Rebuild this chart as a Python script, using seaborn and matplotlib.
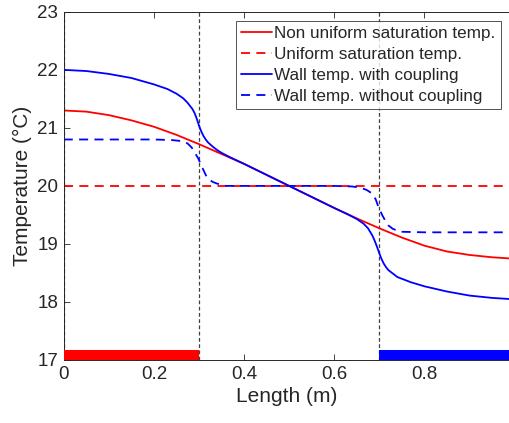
import pandas as pd
import matplotlib
matplotlib.use("Agg")
import matplotlib.pyplot as plt
import seaborn as sns

# values
x_nonuni = [0, 0.05, 0.1, 0.15, 0.2, 0.25, 0.3, 0.35, 0.4, 0.45, 0.5, 0.55,
            0.6, 0.65, 0.7, 0.75, 0.8, 0.85, 0.9, 0.95, 0.99]
t_nonuni = [21.30, 21.28, 21.22, 21.13, 21.02, 20.88, 20.72, 20.55, 20.38, 20.19,
            20.00, 19.81, 19.62, 19.44, 19.27, 19.11, 18.97, 18.87, 18.81, 18.77, 18.75]

x_uni = [0, 0.99]
t_uni = [20.0, 20.0]

x_wall = [0, 0.05, 0.1, 0.15, 0.2, 0.23, 0.25, 0.265, 0.275, 0.285, 0.29, 0.295, 0.3,
          0.305, 0.31, 0.315, 0.32, 0.33, 0.34, 0.35, 0.37, 0.4, 0.45, 0.5, 0.55, 0.6,
          0.63, 0.65, 0.665, 0.675, 0.685, 0.69, 0.695, 0.7, 0.705, 0.71, 0.715, 0.72,
          0.74, 0.77, 0.8, 0.85, 0.9, 0.95, 0.99]
t_wall = [22.00, 21.98, 21.93, 21.86, 21.75, 21.67, 21.59, 21.51, 21.43, 21.33, 21.26,
          21.16, 21.04, 20.94, 20.86, 20.80, 20.75, 20.68, 20.62, 20.57, 20.49, 20.38,
          20.19, 20.00, 19.81, 19.62, 19.51, 19.43, 19.35, 19.27, 19.14, 19.05, 18.95,
          18.84, 18.74, 18.66, 18.60, 18.55, 18.43, 18.34, 18.27, 18.18, 18.11, 18.07,
          18.05]

x_wall_nc = [0, 0.1, 0.2, 0.24, 0.265, 0.275, 0.284, 0.29, 0.298, 0.307, 0.318, 0.33,
             0.34, 0.36, 0.4, 0.5, 0.6, 0.64, 0.658, 0.672, 0.684, 0.692, 0.698,
             0.707, 0.714, 0.72, 0.73, 0.747, 0.8, 0.9, 0.99]
t_wall_nc = [20.80, 20.80, 20.80, 20.79, 20.77, 20.73, 20.66, 20.58, 20.48, 20.32,
             20.14, 20.07, 20.04, 20.00, 20.00, 20.00, 20.00, 19.99, 19.97, 19.93,
             19.87, 19.77, 19.64, 19.49, 19.39, 19.32, 19.26, 19.21, 19.20, 19.20, 19.20]

# heated / cooled zones shown as bars on the bottom axis, and zone borders
hot_zone = [0, 0.3]
cold_zone = [0.7, 0.99]
zone_height = 0.18
borders = [0, 0.3, 0.7]

sns.set_style("ticks")
plt.rcParams["font.family"] = ["Liberation Sans", "DejaVu Sans"]
plt.rcParams["xtick.direction"] = "in"
plt.rcParams["ytick.direction"] = "in"

fig = plt.figure(figsize=(5.1, 4.23), dpi=100)
ax = fig.add_axes([0.125, 0.149, 0.875, 0.823])

for b in borders:
    ax.axvline(b, color="#404040", linestyle=(0, (3, 2)), linewidth=0.9, zorder=1)

ax.fill_between(hot_zone, 17, 17 + zone_height, color="#ff0000", linewidth=0, zorder=3)
ax.fill_between(cold_zone, 17, 17 + zone_height, color="#0000ff", linewidth=0, zorder=3)

sns.lineplot(x=x_nonuni, y=t_nonuni, ax=ax, color="#ff0000", linewidth=1.3,
             label="Non uniform saturation temp.")
sns.lineplot(x=x_uni, y=t_uni, ax=ax, color="#ff0000", linewidth=1.3,
             linestyle=(0, (5, 3.5)), label="Uniform saturation temp.")
sns.lineplot(x=x_wall, y=t_wall, ax=ax, color="#0000ff", linewidth=1.3,
             label="Wall temp. with coupling")
sns.lineplot(x=x_wall_nc, y=t_wall_nc, ax=ax, color="#0000ff", linewidth=1.3,
             linestyle=(0, (5, 3.5)), label="Wall temp. without coupling")

ax.set_xlim(0, 0.99)
ax.set_ylim(17, 23)
ax.set_xticks([0, 0.2, 0.4, 0.6, 0.8])
ax.set_xticklabels(["0", "0.2", "0.4", "0.6", "0.8"])
ax.set_yticks([17, 18, 19, 20, 21, 22, 23])
ax.tick_params(labelsize=13.5, colors="#262626", top=True, length=4, width=0.6, pad=4)
ax.set_xlabel("Length (m)", fontsize=15, color="#262626", labelpad=3)
ax.set_ylabel("Temperature (°C)", fontsize=15, color="#262626", labelpad=4)
for s in ax.spines.values():
    s.set_color("#262626")
    s.set_linewidth(0.7)

leg = ax.legend(loc="upper right", fontsize=12.3, frameon=True, fancybox=False,
                handlelength=1.8, handletextpad=0.15, borderpad=0.3,
                labelspacing=0.35, borderaxespad=0.55)
leg.get_frame().set_edgecolor("#262626")
leg.get_frame().set_linewidth(0.7)

fig.savefig("out.png", dpi=100)
